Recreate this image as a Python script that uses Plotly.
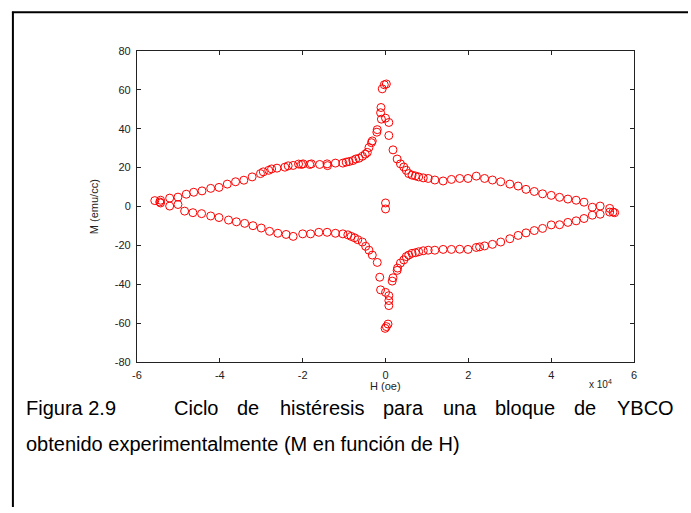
import plotly.graph_objects as go

# H in units of 1e4 Oe, M in emu/cc
H_upper = [-5.57, -5.45, -5.43, -5.21, -5.01, -4.81, -4.63, -4.43, -4.22, -4.02, -3.82, -3.62, -3.42,
           -3.22, -3.02, -2.95, -2.82, -2.75, -2.62, -2.43, -2.35, -2.23, -2.10, -2.03, -1.99, -1.83,
           -1.79, -1.59, -1.41, -1.40, -1.21, -1.03, -0.95, -0.88, -0.79, -0.72, -0.64, -0.56, -0.49,
           -0.44, -0.40, -0.34, -0.32, -0.21, -0.20, -0.10, -0.12, -0.11, -0.08, -0.03, 0.02,
           0.00, 0.08, 0.08, 0.18, 0.28, 0.36, 0.44, 0.50, 0.56, 0.64, 0.72, 0.80, 0.91, 1.03, 1.19,
           1.39, 1.59, 1.79, 1.99, 2.19, 2.39, 2.58, 2.78, 3.00, 3.20, 3.39, 3.59, 3.79, 4.00, 4.20,
           4.40, 4.60, 4.79, 4.99, 5.18, 5.41, 5.49, 5.53]
M_upper = [3.0, 2.3, 3.2, 4.3, 4.8, 6.3, 7.3, 8.0, 9.3, 9.8, 11.5, 12.7, 13.5,
           15.2, 16.9, 17.8, 18.6, 19.3, 19.7, 20.2, 20.9, 21.1, 21.8, 21.6, 21.9, 21.6,
           21.9, 21.6, 21.9, 21.0, 22.3, 22.3, 22.8, 23.1, 23.6, 24.4, 24.8, 25.8, 26.9,
           27.8, 30.3, 32.8, 33.7, 38.2, 39.5, 44.9, 48.2, 50.9, 60.5, 62.6, 63.0,
           45.4, 43.2, 36.5, 29.1, 24.4, 21.9, 20.3, 18.6, 16.9, 16.1, 15.7, 15.2, 14.7, 14.4, 13.6,
           13.1, 13.9, 14.4, 14.4, 15.6, 14.4, 13.6, 12.7, 11.5, 10.5, 8.8, 7.7, 6.5, 5.7, 4.7,
           3.8, 3.2, 2.2, -0.4, 0.2, -1.0, -2.9, -3.2]

H_lower = [-5.43, -5.21, -5.01, -4.85, -4.65, -4.44, -4.22, -4.02, -3.79, -3.60, -3.40, -3.20, -3.00,
           -2.80, -2.60, -2.40, -2.23, -2.00, -1.81, -1.61, -1.41, -1.21, -1.03, -0.91, -0.83, -0.75,
           -0.67, -0.56, -0.48, -0.40, -0.32, -0.20, -0.14, -0.12, 0.00, 0.08, 0.08, 0.08, -0.01, 0.02,
           0.06, 0.16, 0.18, 0.28, 0.29, 0.36, 0.44, 0.50, 0.56, 0.64, 0.72, 0.80, 0.91, 1.03, 1.19,
           1.39, 1.59, 1.79, 1.99, 2.19, 2.27, 2.39, 2.58, 2.78, 3.00, 3.20, 3.39, 3.59, 3.79, 4.00,
           4.20, 4.40, 4.60, 4.79, 4.99, 5.18, 5.41]
M_lower = [1.8, 0.2, 1.0, -2.4, -3.2, -3.7, -4.9, -5.7, -7.0, -7.9, -8.7, -9.9, -11.1,
           -12.8, -13.8, -14.4, -15.4, -14.1, -14.1, -13.3, -13.3, -13.8, -14.1, -14.6, -15.4, -16.1,
           -17.1, -18.3, -20.5, -22.5, -25.0, -28.8, -36.4, -42.9, -44.2, -45.9, -48.4, -51.0, -62.7, -61.8,
           -60.5, -38.4, -36.7, -32.9, -31.7, -29.1, -27.5, -25.8, -25.0, -24.1, -23.8, -23.3, -22.8, -22.5, -22.5,
           -22.1, -22.1, -22.0, -22.1, -21.1, -20.8, -20.3, -19.5, -18.3, -16.6, -14.9, -13.6, -12.4, -11.3, -9.5,
           -9.4, -8.2, -7.4, -6.2, -4.5, -4.0, -2.9]

H_center = [0.0, 0.0]
M_center = [1.8, -1.3]

x_ticks = [-6, -4, -2, 0, 2, 4, 6]
x_ticklabels = ["-6", "-4", "-2", "0", "2", "4", "6"]
y_ticks = [-80, -60, -40, -20, 0, 20, 40, 60, 80]
y_ticklabels = ["-80", "-60", "-40", "-20", "0", "20", "40", "60", "80"]

caption_label = "Figura 2.9"
caption_words = ["Ciclo", "de", "histéresis", "para", "una", "bloque", "de", "YBCO"]
caption_line2 = "obtenido experimentalmente (M en función de H)"

W, Hh = 691, 513
FONT = "Liberation Sans, Arial, sans-serif"

fig = go.Figure()
marker = dict(symbol="circle-open", size=8, color="#ff0000", line=dict(width=1, color="#ff0000"))
for hx, my in [(H_upper, M_upper), (H_lower, M_lower), (H_center, M_center)]:
    fig.add_trace(go.Scatter(x=hx, y=my, mode="markers", marker=marker, showlegend=False,
                             hoverinfo="skip"))

x0p, x1p, y0p, y1p = 133.5, 636.5, 46, 364.5
axcol = "#222222"
tickfont = dict(family=FONT, size=11, color="#222222")
fig.update_layout(
    width=W, height=Hh, margin=dict(l=0, r=0, t=0, b=0),
    paper_bgcolor="white", plot_bgcolor="white",
    xaxis=dict(domain=[x0p / W, x1p / W], range=[-6, 6], tickvals=x_ticks, ticktext=x_ticklabels,
               ticks="inside", ticklen=4, tickcolor=axcol, showline=True, linecolor=axcol,
               linewidth=1, mirror="ticks", showgrid=False, zeroline=False, tickfont=tickfont,
               ticklabelstandoff=3),
    yaxis=dict(domain=[1 - y1p / Hh, 1 - y0p / Hh], range=[-80, 80], tickvals=y_ticks,
               ticktext=y_ticklabels, ticks="inside", ticklen=4, tickcolor=axcol, showline=True,
               linecolor=axcol, linewidth=1, mirror="ticks", showgrid=False, zeroline=False,
               tickfont=tickfont, ticklabelstandoff=3),
)

def px(x):
    return x / W

def py(y):
    return 1 - y / Hh

ann = []
ann.append(dict(x=px(385), y=py(389), text="H (oe)", showarrow=False, xref="paper", yref="paper",
                font=dict(family=FONT, size=11, color="#222"), xanchor="center", yanchor="middle"))
ann.append(dict(x=px(589), y=py(387), text="x 10<sup>4</sup>", showarrow=False, xref="paper",
                yref="paper", font=dict(family=FONT, size=10, color="#222"), xanchor="left",
                yanchor="middle"))
ann.append(dict(x=px(90), y=py(205), text="M (emu/cc)", textangle=-90, showarrow=False,
                xref="paper", yref="paper", font=dict(family=FONT, size=11, color="#222"),
                xanchor="center", yanchor="middle"))
capfont = dict(family=FONT, size=20, color="#000")
cap_y1, cap_y2 = 412, 449
ann.append(dict(x=px(19), y=py(cap_y1), text=caption_label, showarrow=False, xref="paper",
                yref="paper", font=capfont, xanchor="left", yanchor="middle"))
word_x = [169, 233, 276, 380, 441, 494, 574, 679]
for w, wx in zip(caption_words, word_x):
    ann.append(dict(x=px(wx), y=py(cap_y1), text=w, showarrow=False, xref="paper", yref="paper",
                    font=capfont, xanchor="right" if w == "YBCO" else "left", yanchor="middle"))
ann.append(dict(x=px(19), y=py(cap_y2), text=caption_line2, showarrow=False, xref="paper",
                yref="paper", font=capfont, xanchor="left", yanchor="middle"))
fig.update_layout(annotations=ann)

fig.update_layout(shapes=[
    dict(type="line", xref="paper", yref="paper", x0=px(7), x1=1, y0=py(6.5), y1=py(6.5),
         line=dict(color="#000", width=2)),
    dict(type="line", xref="paper", yref="paper", x0=px(8), x1=px(8), y0=py(6), y1=0,
         line=dict(color="#000", width=2)),
])

fig.write_html("out.html")
